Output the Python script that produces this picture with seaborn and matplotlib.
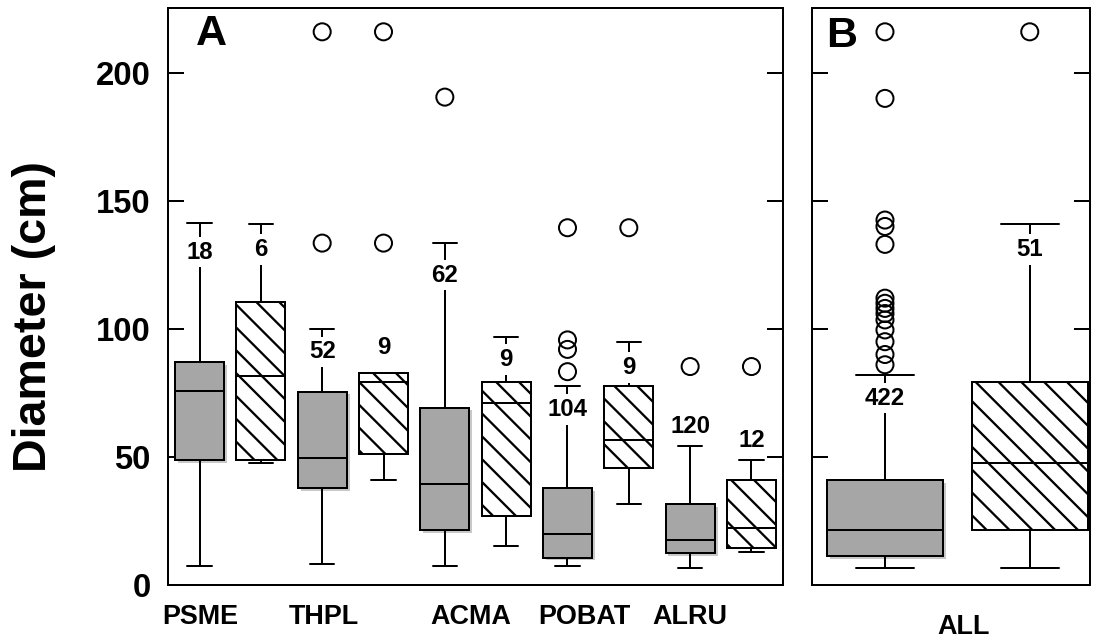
import matplotlib
matplotlib.use("Agg")
import matplotlib.pyplot as plt
import matplotlib.patheffects as pe
import pandas as pd
import seaborn as sns

# panel A: species, two box groups each (grey filled, hatched)
species = ["PSME", "THPL", "ACMA", "POBAT", "ALRU"]
groups = ["grey", "hatched"]

grey_low = [7.4, 8.2, 7.4, 7.4, 6.8]
grey_q1 = [48.8, 37.8, 21.5, 10.7, 12.6]
grey_med = [75.8, 49.7, 39.6, 20.0, 17.6]
grey_q3 = [87.2, 75.5, 69.3, 37.8, 31.6]
grey_high = [141.4, 100.0, 133.5, 77.7, 54.4]
grey_outliers = [[], [133.5, 216.0], [190.5], [83.3, 92.0, 95.7, 139.5], [85.3]]
grey_n = [18, 52, 62, 104, 120]
grey_label_y = [130.0, 91.0, 121.0, 68.4, 62.0]

hatch_low = [47.6, 41.0, 15.2, 31.6, 13.0]
hatch_q1 = [48.8, 51.2, 27.0, 45.7, 14.5]
hatch_med = [81.6, 79.4, 71.0, 56.6, 22.3]
hatch_q3 = [110.5, 82.9, 79.4, 77.7, 41.0]
hatch_high = [141.0, 82.9, 96.8, 95.0, 48.8]
hatch_outliers = [[], [133.5, 216.0], [], [139.5], [85.3]]
hatch_n = [6, 9, 9, 9, 12]
hatch_label_y = [130.9, 92.6, 88.0, 85.0, 56.6]

# panel B: all species pooled
all_cat = ["ALL"]
all_grey = [6.8, 11.3, 21.5, 41.0, 82.0]
all_hatch = [6.8, 21.5, 47.6, 79.4, 141.0]
all_grey_outliers = [86.0, 90.0, 95.0, 99.6, 103.5, 106.0, 108.0, 110.0, 112.0,
                     133.0, 140.0, 142.5, 190.0, 216.0]
all_hatch_outliers = [216.0]
all_n = [422, 51]
all_label_y = [73.0, 131.0]

xlabel_pos_a = [-0.24, 0.76, 1.96, 2.89, 3.75]

DPI = 137
GREY = "#a6a6a6"
LW = 1.05

sns.set_style("ticks")
plt.rcParams["font.family"] = ["Liberation Sans", "DejaVu Sans"]
plt.rcParams["font.weight"] = "bold"
plt.rcParams["hatch.linewidth"] = 1.2
plt.rcParams["axes.linewidth"] = LW
plt.rcParams["axes.edgecolor"] = "black"
plt.rcParams["xtick.color"] = "black"
plt.rcParams["ytick.color"] = "black"
plt.rcParams["text.color"] = "black"


def box_frame(cats, group_stats):
    rows = []
    for g, stats in zip(groups, group_stats):
        for i, cat in enumerate(cats):
            for s in stats:
                rows.append({"species": cat, "group": g, "diameter": s[i]})
    return pd.DataFrame(rows)


def draw_panel(ax, cats, df, outliers, counts, label_y):
    sns.boxplot(data=df, x="species", y="diameter", hue="group", order=cats,
                hue_order=groups, palette=[GREY, "white"], saturation=1,
                whis=(0, 100), showfliers=False, width=1.0, gap=0.2,
                linecolor="black", linewidth=LW, legend=False, ax=ax)
    for p in ax.patches:
        if tuple(p.get_facecolor()[:3]) == (1.0, 1.0, 1.0):
            p.set_hatch("\\\\")
        else:
            p.set_path_effects([pe.SimplePatchShadow(offset=(1.5, -1.5),
                                                     shadow_rgbFace="#c8c8c8", alpha=1),
                                pe.Normal()])
    offsets = [-0.25, 0.25]
    fx, fy = [], []
    for gi, group_out in enumerate(outliers):
        for ci, vals in enumerate(group_out):
            for v in vals:
                fx.append(ci + offsets[gi])
                fy.append(v)
    sns.scatterplot(x=fx, y=fy, marker="o", s=80, facecolor="none",
                    edgecolor="black", linewidth=LW, zorder=4, ax=ax)
    for gi, (gn, gy) in enumerate(zip(counts, label_y)):
        for ci, (n, y) in enumerate(zip(gn, gy)):
            ax.text(ci + offsets[gi], y, str(n), ha="center", va="center",
                    fontsize=12.6, fontweight="bold", zorder=5,
                    bbox=dict(facecolor="white", edgecolor="none", pad=2))
    ax.set_ylim(0, 225.3)
    ax.set_yticks([0, 50, 100, 150, 200])
    ax.set_xlabel("")
    ax.set_ylabel("")
    ax.tick_params(axis="y", direction="in", length=8.4, width=LW, left=True,
                   right=True, labelsize=17.3, pad=9)
    ax.tick_params(axis="x", length=0, labelsize=14.2)


fig = plt.figure(figsize=(1096 / DPI, 640 / DPI), dpi=DPI)
ax_a = fig.add_axes([168 / 1096, 55 / 640, 615 / 1096, 577 / 640])
ax_b = fig.add_axes([812 / 1096, 55 / 640, 278 / 1096, 577 / 640])

df_a = box_frame(species, [[grey_low, grey_q1, grey_med, grey_q3, grey_high],
                           [hatch_low, hatch_q1, hatch_med, hatch_q3, hatch_high]])
draw_panel(ax_a, species, df_a, [grey_outliers, hatch_outliers],
           [grey_n, hatch_n], [grey_label_y, hatch_label_y])
ax_a.set_xlim(-0.507, 4.507)
ax_a.set_xticks(xlabel_pos_a, species)
ax_a.tick_params(axis="x", pad=10)

df_b = box_frame(all_cat, [[[v] for v in all_grey], [[v] for v in all_hatch]])
draw_panel(ax_b, all_cat, df_b, [[all_grey_outliers], [all_hatch_outliers]],
           [[all_n[0]], [all_n[1]]], [[all_label_y[0]], [all_label_y[1]]])
ax_b.set_xlim(-0.502, 0.458)
ax_b.set_xticks([0.02], all_cat)
ax_b.tick_params(axis="x", pad=15)
ax_b.tick_params(axis="y", labelleft=False)

ax_a.text(0.07, 0.955, "A", transform=ax_a.transAxes, ha="center", va="center",
          fontsize=22.6, fontweight="bold")
ax_b.text(0.108, 0.951, "B", transform=ax_b.transAxes, ha="center", va="center",
          fontsize=22.6, fontweight="bold")
fig.text(34 / 1096, 1 - 317 / 640, "Diameter (cm)", rotation=90, ha="center",
         va="center", fontsize=24.5, fontweight="bold")

fig.savefig("out.png", dpi=DPI)
